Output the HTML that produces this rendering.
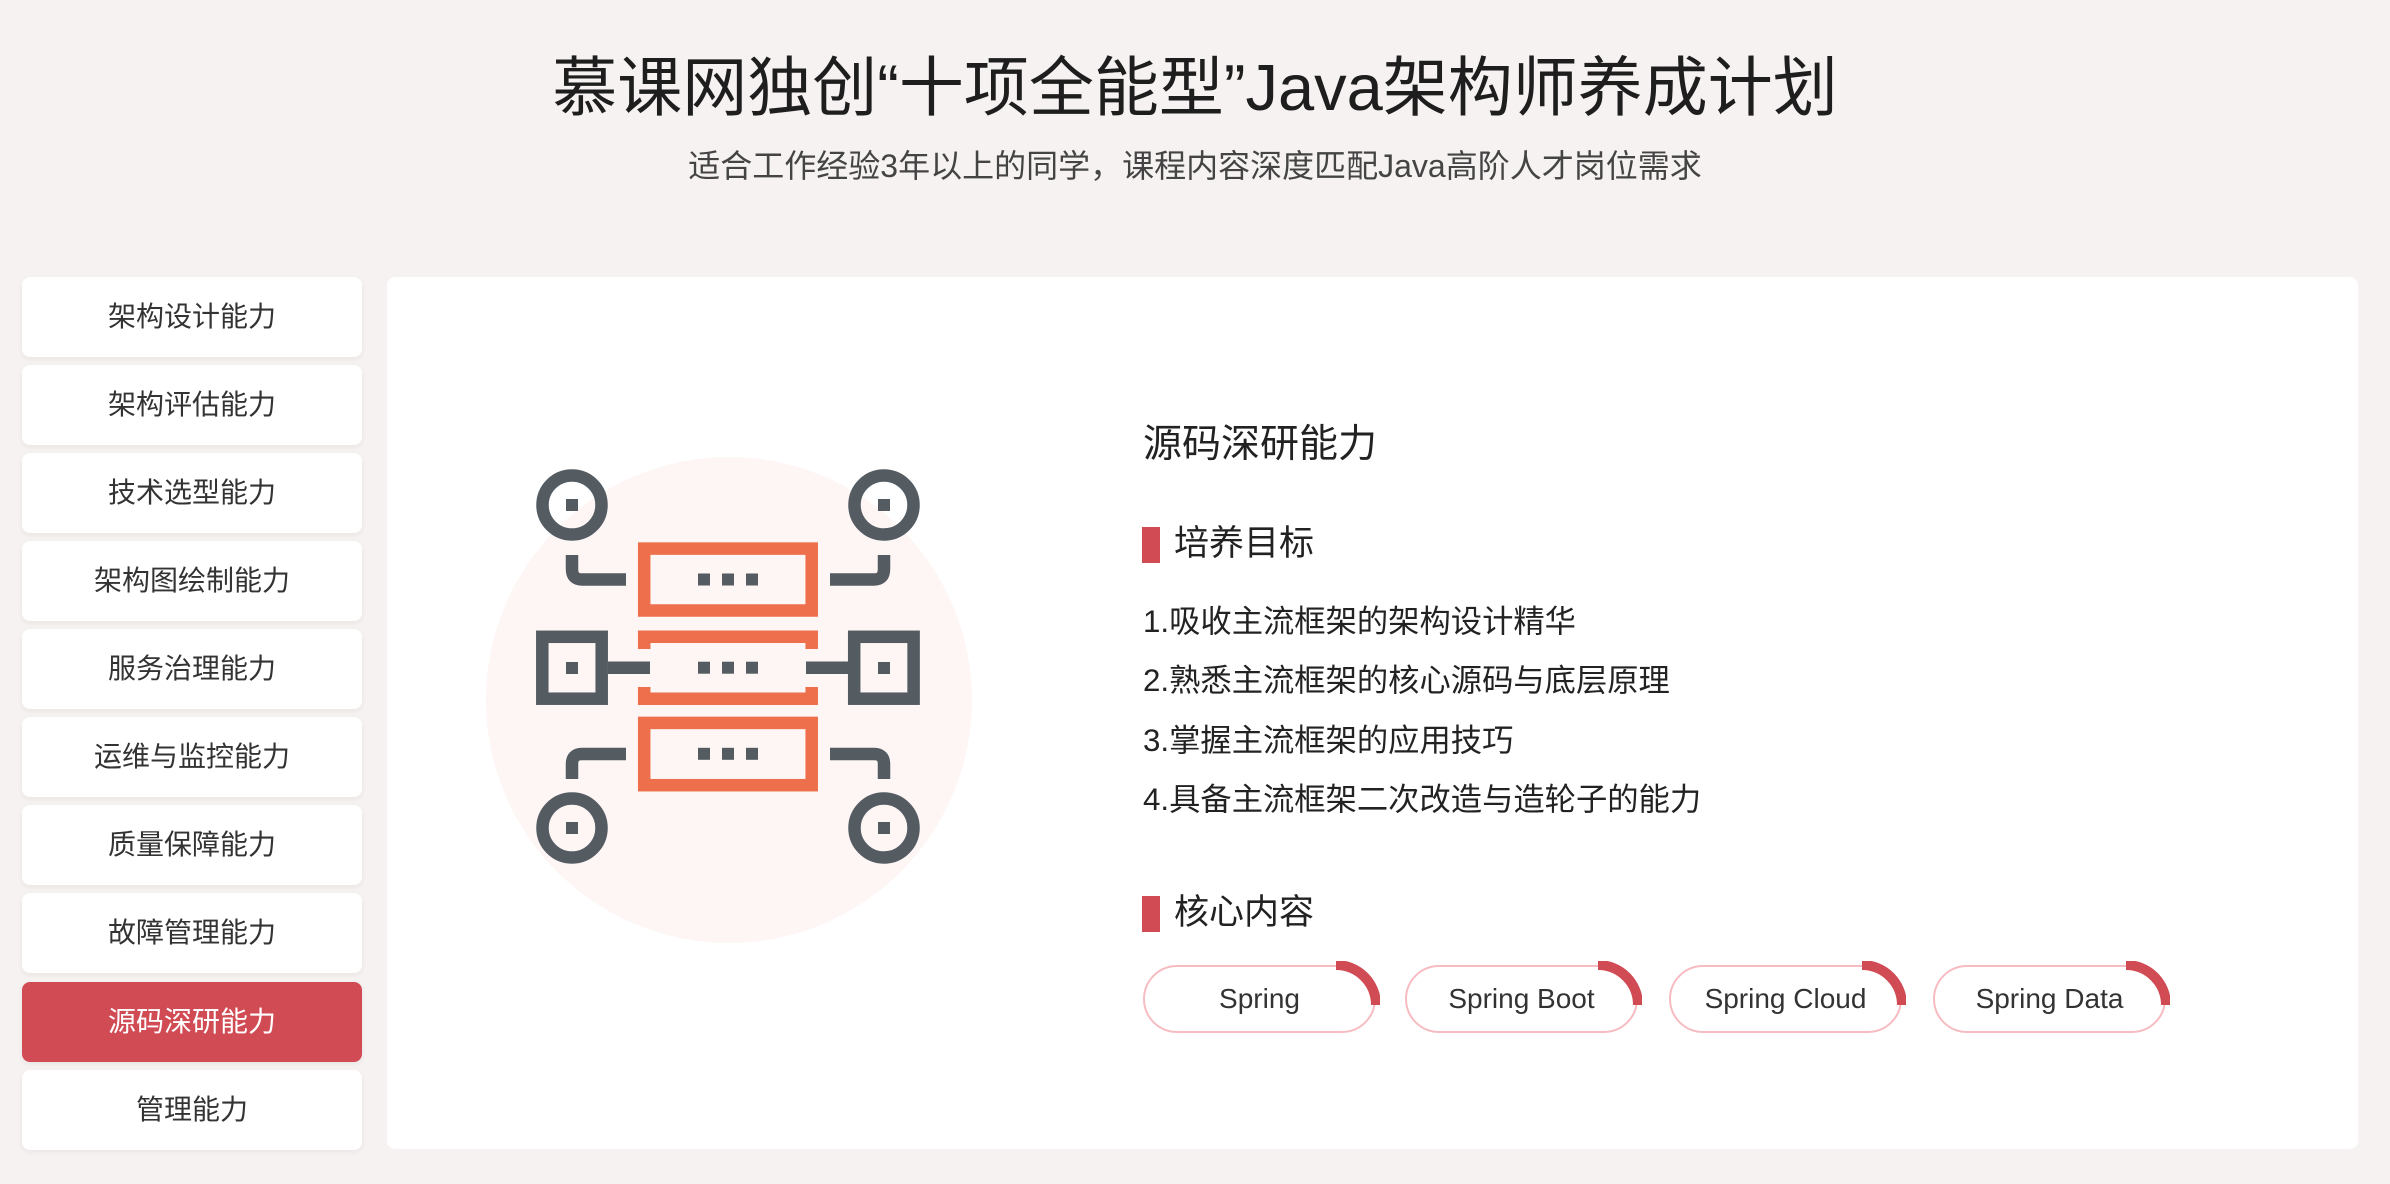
<!DOCTYPE html>
<html><head><meta charset="utf-8">
<style>
*{margin:0;padding:0;box-sizing:border-box}
body{width:2390px;height:1184px;background:#f6f2f1;font-family:"Liberation Sans","Noto Sans CJK SC",sans-serif;position:relative;overflow:hidden;color:#222}
.abs{position:absolute}
.title{left:0;width:2390px;top:48px;text-align:center;font-size:65px;line-height:80px;color:#1e1e1e}
.sub{left:0;width:2390px;top:145px;text-align:center;font-size:32px;line-height:42px;color:#444}
.side{left:22px;width:340px;height:80px;background:#fff;border-radius:8px;box-shadow:0 2px 6px rgba(0,0,0,0.06);text-align:center;line-height:80px;font-size:28px;color:#333}
.side.on{background:#d14b54;color:#fff}
.panel{left:387px;top:277px;width:1971px;height:872px;background:#fff;border-radius:8px}
.h1{left:1143px;top:420px;font-size:39px;line-height:50px;color:#222}
.h2{left:1174px;font-size:35px;line-height:46px;color:#222}
.bar{left:1142px;width:18px;height:36px;background:#d14b54}
.li{left:1143px;font-size:31.3px;line-height:40px;color:#222}
.pill{top:965px;width:233px;height:68px;border:2px solid #f6bcc2;border-radius:34px;text-align:center;line-height:64px;font-size:28px;color:#333;background:#fff}
.pill svg{position:absolute;right:-6px;top:-6px}
</style></head><body>
<div class="abs title">慕课网独创“十项全能型”Java架构师养成计划</div>
<div class="abs sub">适合工作经验3年以上的同学，课程内容深度匹配Java高阶人才岗位需求</div>

<div class="abs side" style="top:277px">架构设计能力</div>
<div class="abs side" style="top:365px">架构评估能力</div>
<div class="abs side" style="top:453px">技术选型能力</div>
<div class="abs side" style="top:541px">架构图绘制能力</div>
<div class="abs side" style="top:629px">服务治理能力</div>
<div class="abs side" style="top:717px">运维与监控能力</div>
<div class="abs side" style="top:805px">质量保障能力</div>
<div class="abs side" style="top:893px">故障管理能力</div>
<div class="abs side on" style="top:982px">源码深研能力</div>
<div class="abs side" style="top:1070px">管理能力</div>

<div class="abs panel"></div>

<svg class="abs" style="left:0;top:0" width="2390" height="1184">
<circle cx="729" cy="700" r="243" fill="#fdf6f5"/>
<g fill="none" stroke="#545b61" stroke-width="12.5">
<circle cx="572" cy="505" r="29.5"/>
<circle cx="884" cy="505" r="29.5"/>
<circle cx="572" cy="828" r="29.5"/>
<circle cx="884" cy="828" r="29.5"/>
<rect x="542.3" y="636.8" width="59.4" height="61.9"/>
<rect x="854.2" y="636.8" width="59.4" height="61.9"/>
<path d="M572 555 V569 Q572 579.5 582 579.5 H626"/>
<path d="M884 555 V569 Q884 579.5 874 579.5 H830"/>
<path d="M572 779 V764 Q572 754 582 754 H626"/>
<path d="M884 779 V764 Q884 754 874 754 H830"/>
<path d="M608 667.7 H650 M806 667.7 H848"/>
</g>
<g fill="none" stroke="#ed6f4b" stroke-width="12.5">
<rect x="644.2" y="548.6" width="167.5" height="61.9"/>
<rect x="644.2" y="722.9" width="167.5" height="62.3"/>
<path d="M644.2 649 V636.8 H811.7 V649 M644.2 687 V698.7 H811.7 V687"/>
</g>
<g fill="#545b61">
<rect x="698" y="573.5" width="12" height="12"/><rect x="722" y="573.5" width="12" height="12"/><rect x="746" y="573.5" width="12" height="12"/>
<rect x="698" y="661.7" width="12" height="12"/><rect x="722" y="661.7" width="12" height="12"/><rect x="746" y="661.7" width="12" height="12"/>
<rect x="698" y="747.8" width="12" height="12"/><rect x="722" y="747.8" width="12" height="12"/><rect x="746" y="747.8" width="12" height="12"/>
<rect x="566" y="499" width="12" height="12"/><rect x="878" y="499" width="12" height="12"/>
<rect x="566" y="662" width="12" height="12"/><rect x="878" y="662" width="12" height="12"/>
<rect x="566" y="822" width="12" height="12"/><rect x="878" y="822" width="12" height="12"/>
</g>
</svg>

<div class="abs h1">源码深研能力</div>
<div class="abs bar" style="top:527px"></div>
<div class="abs h2" style="top:521px">培养目标</div>
<div class="abs li" style="top:602px">1.吸收主流框架的架构设计精华</div>
<div class="abs li" style="top:661px">2.熟悉主流框架的核心源码与底层原理</div>
<div class="abs li" style="top:721px">3.掌握主流框架的应用技巧</div>
<div class="abs li" style="top:780px">4.具备主流框架二次改造与造轮子的能力</div>
<div class="abs bar" style="top:896px"></div>
<div class="abs h2" style="top:890px">核心内容</div>

<div class="abs pill" style="left:1143px">Spring<svg width="50" height="50"><path d="M6 4 A40 40 0 0 1 46 44" fill="none" stroke="#d14b54" stroke-width="10"/></svg></div>
<div class="abs pill" style="left:1405px">Spring Boot<svg width="50" height="50"><path d="M6 4 A40 40 0 0 1 46 44" fill="none" stroke="#d14b54" stroke-width="10"/></svg></div>
<div class="abs pill" style="left:1669px">Spring Cloud<svg width="50" height="50"><path d="M6 4 A40 40 0 0 1 46 44" fill="none" stroke="#d14b54" stroke-width="10"/></svg></div>
<div class="abs pill" style="left:1933px">Spring Data<svg width="50" height="50"><path d="M6 4 A40 40 0 0 1 46 44" fill="none" stroke="#d14b54" stroke-width="10"/></svg></div>
</body></html>
